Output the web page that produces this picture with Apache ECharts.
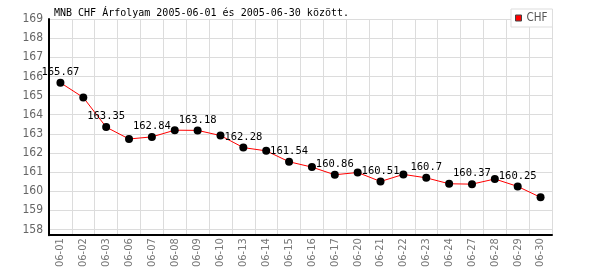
<!DOCTYPE html>
<html>
<head>
<meta charset="utf-8">
<script src="https://cdn.jsdelivr.net/npm/echarts@6/dist/echarts.min.js"></script>
<style>html,body{margin:0;padding:0;background:#fff}#c{width:600px;height:270px}</style>
</head>
<body>
<div id="c"></div>
<script>
const titleText = 'MNB CHF Árfolyam 2005-06-01 és 2005-06-30 között.';
const seriesName = 'CHF';
const categories = ['06-01','06-02','06-03','06-06','06-07','06-08','06-09','06-10','06-13','06-14','06-15','06-16','06-17','06-20','06-21','06-22','06-23','06-24','06-27','06-28','06-29','06-30'];
const values = [165.67,164.90,163.35,162.73,162.84,163.19,163.18,162.91,162.28,162.11,161.54,161.26,160.86,160.98,160.51,160.88,160.70,160.39,160.37,160.64,160.25,159.68];
const yTicks = [158,159,160,161,162,163,164,165,166,167,168,169];

const chart = echarts.init(document.getElementById('c'), null, {renderer:'canvas'});
const axisFont = "'Liberation Sans Narrow','DejaVu Sans Condensed','Liberation Sans',sans-serif";
chart.setOption({
  animation:false,
  backgroundColor:'#fff',
  title:{text:titleText,left:54,top:8,padding:0,
    textStyle:{fontFamily:"'DejaVu Sans Mono',monospace",fontSize:10,fontWeight:'normal',color:'#000'}},
  legend:{data:[{name:seriesName,icon:'rect',itemStyle:{color:'#ff0000',borderColor:'#444',borderWidth:1}}],
    left:511,top:9,padding:[3,5,3,4],itemWidth:6,itemHeight:6,itemGap:0,
    backgroundColor:'#fff',borderColor:'#dddddd',borderWidth:1,borderRadius:0,
    textStyle:{fontFamily:axisFont,fontSize:11.5,color:'#555'}},
  grid:{left:49,right:48,top:19,bottom:32,containLabel:false},
  xAxis:{type:'category',data:categories,boundaryGap:true,
    axisLine:{show:true,lineStyle:{color:'#000',width:2}},
    axisTick:{show:false},
    splitLine:{show:true,interval:0,lineStyle:{color:'#dcdcdc',width:1}},
    axisLabel:{rotate:90,interval:0,margin:3,fontFamily:axisFont,fontSize:11,color:'#777'}},
  yAxis:{type:'value',min:157.7,max:169,
    axisLine:{show:true,lineStyle:{color:'#000',width:2}},
    axisTick:{show:false,customValues:yTicks},
    splitLine:{show:true,lineStyle:{color:'#dcdcdc',width:1}},
    axisLabel:{customValues:yTicks,margin:6,fontFamily:axisFont,fontSize:12,color:'#666'}},
  series:[{name:seriesName,type:'line',data:values,
    lineStyle:{color:'#ff0000',width:1},
    itemStyle:{color:'#000'},
    symbol:'circle',symbolSize:8,
    label:{show:true,position:'top',distance:1,
      fontFamily:"'DejaVu Sans Mono',monospace",fontSize:10.5,color:'#000',
      formatter:p=>p.dataIndex%2===0?String(p.value):''}}]
});
</script>
</body>
</html>
